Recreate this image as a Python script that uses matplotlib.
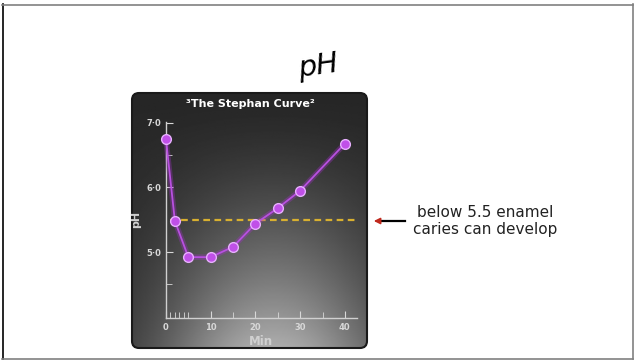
import numpy as np
import matplotlib
matplotlib.use("Agg")
import matplotlib.pyplot as plt
from matplotlib.patches import FancyBboxPatch

# data
minutes = [0, 2, 5, 10, 15, 20, 25, 30, 40]
ph = [6.75, 5.48, 4.92, 4.92, 5.08, 5.44, 5.68, 5.95, 6.68]
critical_ph = 5.5
x_ticks = [0, 10, 20, 30, 40]
x_minor = [1, 2, 3, 4, 5, 15, 20, 25, 30, 35]
y_ticks = [5.0, 6.0, 7.0]
y_labels = ["5·0", "6·0", "7·0"]
y_minor = [4.5, 6.5]

W, H = 634, 362
fig = plt.figure(figsize=(W / 100, H / 100), dpi=100)

# page layer in pixel coords
bg = fig.add_axes([0, 0, 1, 1])
bg.set_xlim(0, W)
bg.set_ylim(H, 0)
bg.axis("off")

bg.plot([2.5, 2.5], [4, 359], color="black", lw=1.2)
bg.plot([2, 633], [4.5, 4.5], color="#808080", lw=1.2)
bg.plot([632.5, 632.5], [4, 359], color="#808080", lw=1.2)
bg.plot([2, 633], [358.5, 358.5], color="#808080", lw=1.2)

# dark chart panel with gradient
px0, py0, px1, py1 = 132, 93, 367, 348
panel = FancyBboxPatch((px0, py0), px1 - px0, py1 - py0,
                       boxstyle="round,pad=0,rounding_size=7",
                       facecolor="none", edgecolor="#1a1a1a", lw=1.5, zorder=3)
bg.add_patch(panel)
u = np.linspace(0, 1, 200)
t = np.linspace(0, 1, 220)
U, T = np.meshgrid(u, t)
val = 38 + 135 * T ** 1.5 * np.exp(-((U - 0.6) / 0.5) ** 2)
img = bg.imshow(val, cmap="gray", vmin=0, vmax=255,
                extent=(px0, px1, py1, py0), aspect="auto", zorder=1)
img.set_clip_path(panel)

# handwritten-looking heading
bg.text(318, 66, "pH", fontsize=21, fontstyle="oblique", family="DejaVu Sans",
        ha="center", va="center", color="black", rotation=8)

bg.text(485, 221, "below 5.5 enamel\ncaries can develop", fontsize=11,
        ha="center", va="center", color="#222222", linespacing=1.15)
bg.plot([380, 405], [221, 221], color="black", lw=1.6)
bg.annotate("", xy=(371, 221), xytext=(382, 221),
            arrowprops=dict(arrowstyle="-|>", color="#c0281c", lw=1.2,
                            mutation_scale=9))

bg.text(250, 104, "³The Stephan Curve²", fontsize=8, fontweight="bold",
        color="white", ha="center", va="center")

# curve axes
ax = fig.add_axes([165.5 / W, 1 - 317.8 / H, (356.5 - 165.5) / W, (317.8 - 121.7) / H])
ax.set_facecolor("none")
ax.set_xlim(-0.1, 42.6)
ax.set_ylim(3.98, 7.02)
for s in ["top", "right"]:
    ax.spines[s].set_visible(False)
for s in ["left", "bottom"]:
    ax.spines[s].set_color("#d0d0d0")
    ax.spines[s].set_linewidth(1.0)

ax.set_xticks(x_ticks)
ax.set_xticklabels([str(v) for v in x_ticks])
ax.set_xticks(x_minor, minor=True)
ax.set_yticks(y_ticks)
ax.set_yticklabels(y_labels)
ax.set_yticks(y_minor, minor=True)
ax.tick_params(axis="both", which="both", direction="in", colors="#d8d8d8",
               labelsize=6, labelcolor="#d8d8d8")
ax.tick_params(axis="x", which="major", length=5, pad=4)
ax.tick_params(axis="x", which="minor", length=4)
ax.tick_params(axis="y", which="major", length=5, pad=3)
ax.tick_params(axis="y", which="minor", length=4)
for lab in ax.get_xticklabels() + ax.get_yticklabels():
    lab.set_fontweight("bold")

ax.set_xlabel("Min", fontsize=8.5, fontweight="bold", color="#d0d0d0", labelpad=2)
ax.set_ylabel("pH", fontsize=8, fontweight="bold", color="#d0d0d0", labelpad=4)

ax.plot([1, 43], [critical_ph, critical_ph], color="#d8b030", lw=1.6,
        ls=(0, (3, 2)), clip_on=False, zorder=2)
ax.plot(minutes, ph, color="#a030c8", lw=4, alpha=0.35, clip_on=False, zorder=3)
ax.plot(minutes, ph, color="#b850e0", lw=1.3, clip_on=False, zorder=4,
        marker="o", markersize=7, markerfacecolor="#c050e8",
        markeredgecolor="#e8b0ff", markeredgewidth=1.0)

fig.savefig("out.png", dpi=100)
